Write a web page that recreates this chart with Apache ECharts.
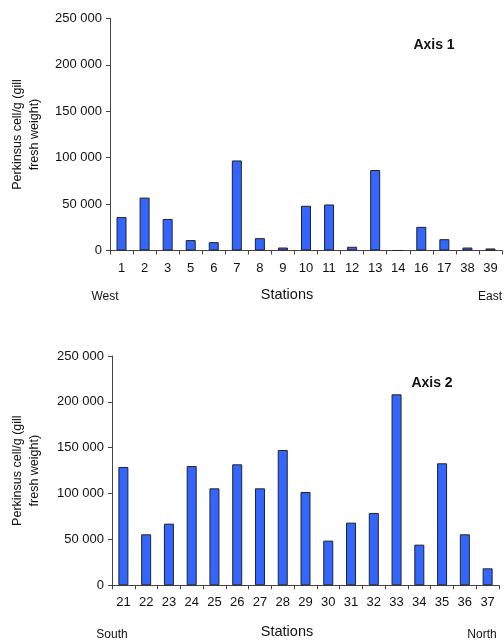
<!DOCTYPE html>
<html><head><meta charset="utf-8">
<script src="https://cdn.jsdelivr.net/npm/echarts@6/dist/echarts.min.js"></script>
<style>html,body{margin:0;padding:0;background:#fff}#c{width:504px;height:641px}</style>
</head><body><div id="c"></div>
<script>
const stations1 = ['1','2','3','5','6','7','8','9','10','11','12','13','14','16','17','38','39'];
const values1 = [36000,57000,34000,11200,9000,97000,13300,3200,48200,49600,4000,86700,0,25500,12200,3200,2200];
const stations2 = ['21','22','23','24','25','26','27','28','29','30','31','32','33','34','35','36','37'];
const values2 = [129000,55600,67200,130000,105700,131900,105700,147500,101700,48700,68300,78900,208200,44300,133000,55600,18500];
const yTicks = [0,50000,100000,150000,200000,250000];

const font = 'Liberation Sans, Arial, sans-serif';
const fmt = v => String(v).replace(/\B(?=(\d{3})+(?!\d))/g, ' ');
const axisLineStyle = {color:'#444', width:1};
function xAx(idx, data){
  return {type:'category', gridIndex:idx, data:data,
    axisLine:{lineStyle:axisLineStyle}, axisTick:{show:true, length:4, lineStyle:axisLineStyle},
    axisLabel:{color:'#111', fontFamily:font, fontSize:13, margin:11, interval:0}};
}
function yAx(idx, gap){
  return {type:'value', gridIndex:idx, min:yTicks[0], max:yTicks[yTicks.length-1], interval:50000,
    name:'Perkinsus cell/g (gill\nfresh weight)', nameLocation:'middle', nameGap:gap, nameRotate:90,
    nameTextStyle:{color:'#111', fontFamily:font, fontSize:12.5, lineHeight:17},
    axisLine:{show:true, lineStyle:axisLineStyle}, axisTick:{show:true, length:4, lineStyle:axisLineStyle},
    splitLine:{show:false},
    axisLabel:{color:'#111', fontFamily:font, fontSize:13, margin:8, formatter:fmt}};
}
const barStyle = {color:'#3366FF', borderColor:'#222', borderWidth:1};
const chart = echarts.init(document.getElementById('c'), null, {renderer:'canvas'});
chart.setOption({
  animation:false,
  grid:[{left:110, top:18.5, width:392, height:232, outerBoundsMode:'none', containLabel:false},
        {left:112, top:356, width:387, height:229.3, outerBoundsMode:'none', containLabel:false}],
  xAxis:[xAx(0, stations1), xAx(1, stations2)],
  yAxis:[yAx(0, 67), yAx(1, 69)],
  series:[
    {type:'bar', xAxisIndex:0, yAxisIndex:0, data:values1, barWidth:10, itemStyle:barStyle},
    {type:'bar', xAxisIndex:1, yAxisIndex:1, data:values2, barWidth:10, itemStyle:barStyle}
  ],
  graphic:[
    {type:'text', x:434, y:45, style:{text:'Axis 1', fill:'#111', font:'bold 14px '+font, align:'center', verticalAlign:'middle'}},
    {type:'text', x:105, y:297, style:{text:'West', fill:'#111', font:'12px '+font, align:'center', verticalAlign:'middle'}},
    {type:'text', x:287, y:295, style:{text:'Stations', fill:'#111', font:'14.5px '+font, align:'center', verticalAlign:'middle'}},
    {type:'text', x:478, y:297, style:{text:'East', fill:'#111', font:'12px '+font, align:'left', verticalAlign:'middle'}},
    {type:'text', x:432, y:383, style:{text:'Axis 2', fill:'#111', font:'bold 14px '+font, align:'center', verticalAlign:'middle'}},
    {type:'text', x:112, y:635, style:{text:'South', fill:'#111', font:'12px '+font, align:'center', verticalAlign:'middle'}},
    {type:'text', x:287, y:632, style:{text:'Stations', fill:'#111', font:'14.5px '+font, align:'center', verticalAlign:'middle'}},
    {type:'text', x:482, y:635, style:{text:'North', fill:'#111', font:'12px '+font, align:'center', verticalAlign:'middle'}}
  ]
});
</script></body></html>
